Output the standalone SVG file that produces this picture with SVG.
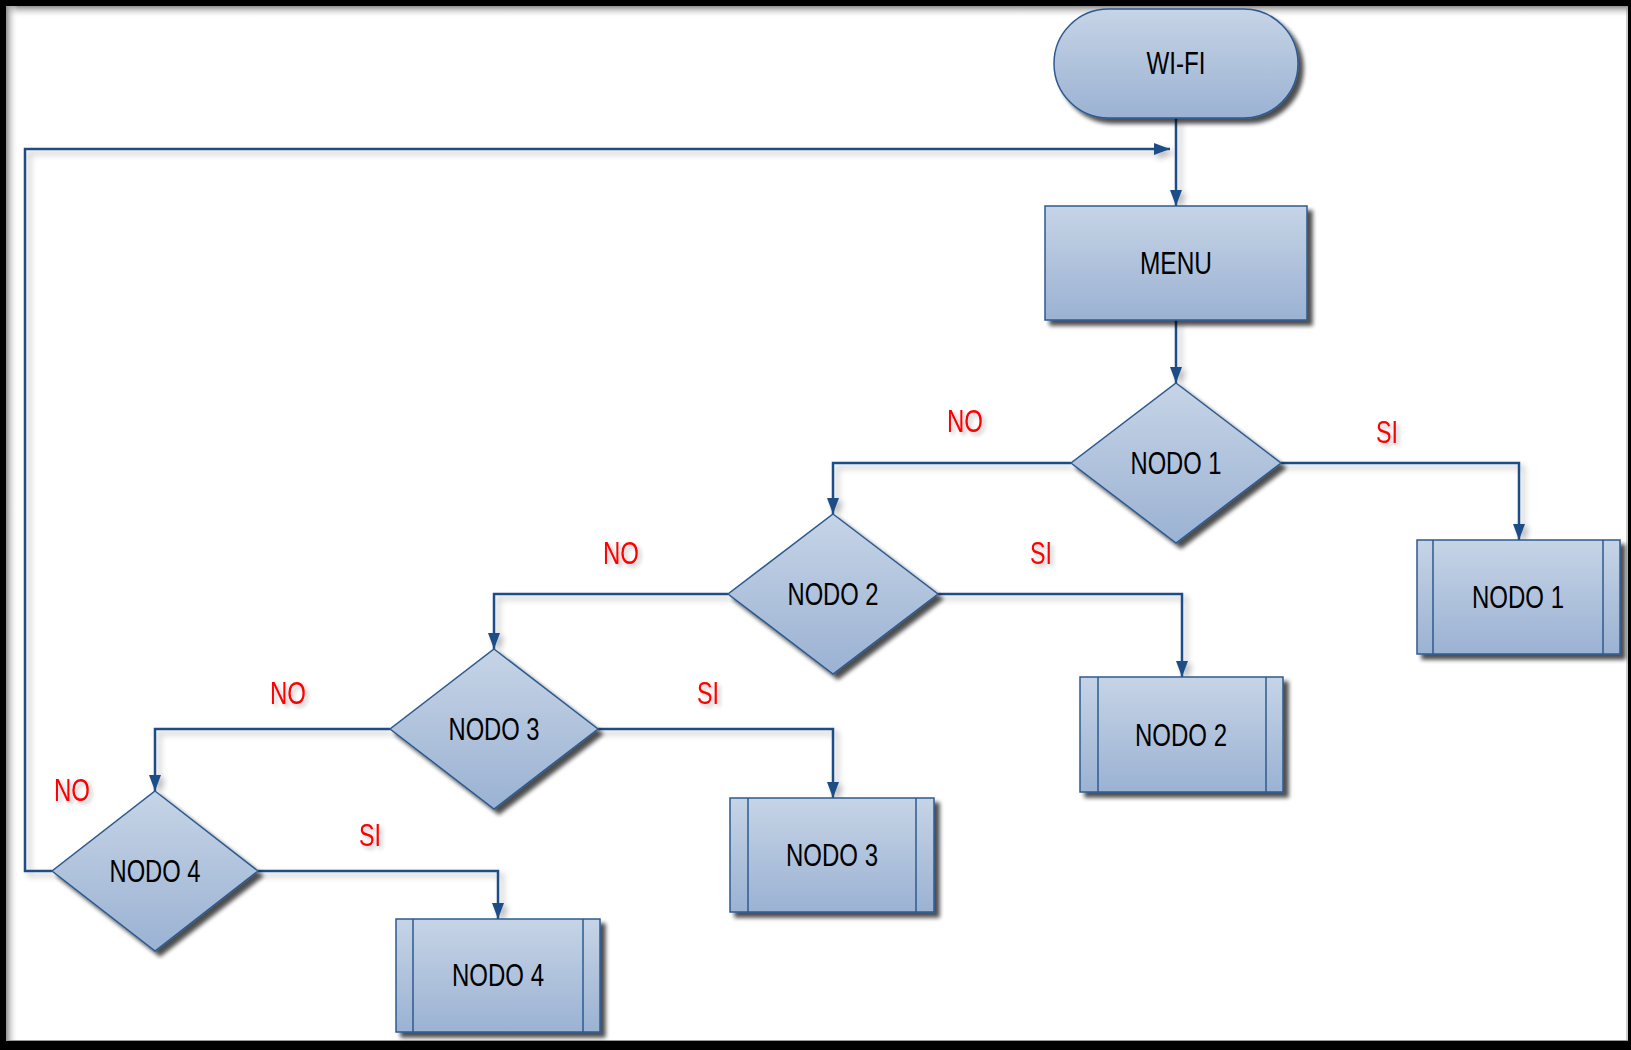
<svg xmlns="http://www.w3.org/2000/svg" width="1631" height="1050" viewBox="0 0 1631 1050">
  <defs>
    <linearGradient id="fillGrad" x1="0" y1="0" x2="0" y2="1">
      <stop offset="0" stop-color="#c6d4e6"/>
      <stop offset="1" stop-color="#9bb2d3"/>
    </linearGradient>
    <linearGradient id="edgeTop" x1="0" y1="0" x2="0" y2="1">
      <stop offset="0" stop-color="#8c8c8c"/>
      <stop offset="1" stop-color="#ffffff" stop-opacity="0"/>
    </linearGradient>
    <linearGradient id="edgeLeft" x1="0" y1="0" x2="1" y2="0">
      <stop offset="0" stop-color="#8c8c8c"/>
      <stop offset="1" stop-color="#ffffff" stop-opacity="0"/>
    </linearGradient>
    <filter id="shapeShadow" x="-10%" y="-10%" width="130%" height="130%">
      <feGaussianBlur in="SourceAlpha" stdDeviation="2"/>
      <feOffset dx="5" dy="5" result="off"/>
      <feComponentTransfer><feFuncA type="linear" slope="0.7"/></feComponentTransfer>
      <feMerge><feMergeNode/><feMergeNode in="SourceGraphic"/></feMerge>
    </filter>
    <filter id="lineShadow" x="-5%" y="-5%" width="110%" height="110%">
      <feGaussianBlur in="SourceAlpha" stdDeviation="3"/>
      <feOffset dx="4" dy="4" result="off"/>
      <feComponentTransfer><feFuncA type="linear" slope="0.3"/></feComponentTransfer>
      <feMerge><feMergeNode/><feMergeNode in="SourceGraphic"/></feMerge>
    </filter>
    <filter id="textShadow" x="-20%" y="-20%" width="150%" height="150%">
      <feGaussianBlur in="SourceAlpha" stdDeviation="2"/>
      <feOffset dx="3" dy="3" result="off"/>
      <feComponentTransfer><feFuncA type="linear" slope="0.25"/></feComponentTransfer>
      <feMerge><feMergeNode/><feMergeNode in="SourceGraphic"/></feMerge>
    </filter>
    <marker id="arrow" viewBox="0 -6 16 12" refX="16" refY="0" markerWidth="16" markerHeight="12" markerUnits="userSpaceOnUse" orient="auto">
      <path d="M0,-6 L16,0 L0,6 z" fill="#1f4e86"/>
    </marker>
    <style>
      .shape { fill: url(#fillGrad); stroke: #2c5a8f; stroke-width: 1.5; }
      .inner { stroke: #2c5a8f; stroke-width: 1.5; fill: none; }
      .label { font-family: "Liberation Sans Narrow", "Liberation Sans", Arial, sans-serif; font-size: 32px; fill: #000; text-anchor: middle; }
      .yn { font-family: "Liberation Sans Narrow", "Liberation Sans", Arial, sans-serif; font-size: 32px; fill: #ff0000; text-anchor: middle; }
      .conn { fill: none; stroke: #1f4e86; stroke-width: 2.5; }
    </style>
  </defs>

  <!-- frame -->
  <rect x="0" y="0" width="1631" height="1050" fill="#000"/>
  <rect x="6" y="6" width="1622" height="1035" fill="#fff"/>
  <rect x="6" y="6" width="1622" height="12" fill="url(#edgeTop)"/>
  <rect x="6" y="6" width="12" height="1035" fill="url(#edgeLeft)"/>
  <line x1="1627" y1="6" x2="1627" y2="1041" stroke="#9a9a9a" stroke-width="1"/>
  <line x1="6" y1="1040.5" x2="1628" y2="1040.5" stroke="#9a9a9a" stroke-width="1"/>

  <!-- connectors -->
  <g id="connectors" filter="url(#lineShadow)">
    <path class="conn" d="M1176,118 V206" marker-end="url(#arrow)"/>
    <path class="conn" d="M1176,320 V383" marker-end="url(#arrow)"/>
    <path class="conn" d="M1281,463 H1519 V540" marker-end="url(#arrow)"/>
    <path class="conn" d="M1071,463 H833 V514" marker-end="url(#arrow)"/>
    <path class="conn" d="M938,594 H1182 V677" marker-end="url(#arrow)"/>
    <path class="conn" d="M728,594 H494 V649" marker-end="url(#arrow)"/>
    <path class="conn" d="M598,729 H833 V798" marker-end="url(#arrow)"/>
    <path class="conn" d="M390,729 H155 V791" marker-end="url(#arrow)"/>
    <path class="conn" d="M258,871 H498 V919" marker-end="url(#arrow)"/>
    <path class="conn" d="M52,871 H25 V149 H1170" marker-end="url(#arrow)"/>
  </g>

  <!-- branch labels -->
  <g id="branch-labels" filter="url(#textShadow)">
    <text class="yn" x="965" y="432" textLength="36" lengthAdjust="spacingAndGlyphs">NO</text>
    <text class="yn" x="1387" y="443" textLength="22" lengthAdjust="spacingAndGlyphs">SI</text>
    <text class="yn" x="621" y="564" textLength="36" lengthAdjust="spacingAndGlyphs">NO</text>
    <text class="yn" x="1041" y="564" textLength="22" lengthAdjust="spacingAndGlyphs">SI</text>
    <text class="yn" x="288" y="704" textLength="36" lengthAdjust="spacingAndGlyphs">NO</text>
    <text class="yn" x="708" y="704" textLength="22" lengthAdjust="spacingAndGlyphs">SI</text>
    <text class="yn" x="72" y="801" textLength="36" lengthAdjust="spacingAndGlyphs">NO</text>
    <text class="yn" x="370" y="846" textLength="22" lengthAdjust="spacingAndGlyphs">SI</text>
  </g>

  <!-- start terminator -->
  <g id="wifi">
    <rect class="shape" x="1054" y="9" width="244" height="109" rx="54.5" ry="54.5" filter="url(#shapeShadow)"/>
    <text class="label" x="1176" y="74" textLength="59" lengthAdjust="spacingAndGlyphs">WI-FI</text>
  </g>

  <!-- menu process -->
  <g id="menu">
    <rect class="shape" x="1045" y="206" width="262" height="114" filter="url(#shapeShadow)"/>
    <text class="label" x="1176" y="274" textLength="72" lengthAdjust="spacingAndGlyphs">MENU</text>
  </g>

  <!-- decisions -->
  <g id="decision-nodo1">
    <polygon class="shape" points="1176,383 1281,463 1176,543 1071,463" filter="url(#shapeShadow)"/>
    <text class="label" x="1176" y="474" textLength="91" lengthAdjust="spacingAndGlyphs">NODO 1</text>
  </g>
  <g id="decision-nodo2">
    <polygon class="shape" points="833,514 938,594 833,674 728,594" filter="url(#shapeShadow)"/>
    <text class="label" x="833" y="605" textLength="91" lengthAdjust="spacingAndGlyphs">NODO 2</text>
  </g>
  <g id="decision-nodo3">
    <polygon class="shape" points="494,649 598,729 494,809 390,729" filter="url(#shapeShadow)"/>
    <text class="label" x="494" y="740" textLength="91" lengthAdjust="spacingAndGlyphs">NODO 3</text>
  </g>
  <g id="decision-nodo4">
    <polygon class="shape" points="155,791 258,871 155,951 52,871" filter="url(#shapeShadow)"/>
    <text class="label" x="155" y="882" textLength="91" lengthAdjust="spacingAndGlyphs">NODO 4</text>
  </g>

  <!-- predefined processes -->
  <g id="process-nodo1">
    <rect class="shape" x="1417" y="540" width="203" height="114" filter="url(#shapeShadow)"/>
    <line class="inner" x1="1433" y1="540" x2="1433" y2="654"/>
    <line class="inner" x1="1603" y1="540" x2="1603" y2="654"/>
    <text class="label" x="1518" y="608" textLength="92" lengthAdjust="spacingAndGlyphs">NODO 1</text>
  </g>
  <g id="process-nodo2">
    <rect class="shape" x="1080" y="677" width="203" height="115" filter="url(#shapeShadow)"/>
    <line class="inner" x1="1098" y1="677" x2="1098" y2="792"/>
    <line class="inner" x1="1266" y1="677" x2="1266" y2="792"/>
    <text class="label" x="1181" y="746" textLength="92" lengthAdjust="spacingAndGlyphs">NODO 2</text>
  </g>
  <g id="process-nodo3">
    <rect class="shape" x="730" y="798" width="204" height="114" filter="url(#shapeShadow)"/>
    <line class="inner" x1="748" y1="798" x2="748" y2="912"/>
    <line class="inner" x1="916" y1="798" x2="916" y2="912"/>
    <text class="label" x="832" y="866" textLength="92" lengthAdjust="spacingAndGlyphs">NODO 3</text>
  </g>
  <g id="process-nodo4">
    <rect class="shape" x="396" y="919" width="204" height="113" filter="url(#shapeShadow)"/>
    <line class="inner" x1="413" y1="919" x2="413" y2="1032"/>
    <line class="inner" x1="583" y1="919" x2="583" y2="1032"/>
    <text class="label" x="498" y="986" textLength="92" lengthAdjust="spacingAndGlyphs">NODO 4</text>
  </g>
</svg>
